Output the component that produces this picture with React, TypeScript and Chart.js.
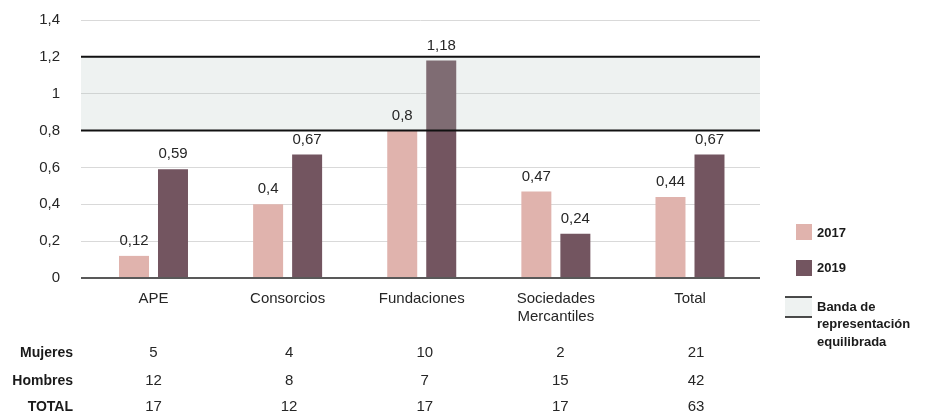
import React, { useEffect, useRef } from 'react';
import { Chart, registerables } from 'chart.js';

Chart.register(...registerables);

const categories: (string | string[])[] = ['APE', 'Consorcios', 'Fundaciones', ['Sociedades', 'Mercantiles'], 'Total'];
const seriesNames = ['2017', '2019'];
const values2017 = [0.12, 0.4, 0.8, 0.47, 0.44];
const values2019 = [0.59, 0.67, 1.18, 0.24, 0.67];
const yTickValues = [0, 0.2, 0.4, 0.6, 0.8, 1, 1.2, 1.4];
const bandRange = [0.8, 1.2];
const bandLabel = ['Banda de', 'representación', 'equilibrada'];
const tableRowLabels = ['Mujeres', 'Hombres', 'TOTAL'];
const mujeres = [5, 4, 10, 2, 21];
const hombres = [12, 8, 7, 15, 42];
const totales = [17, 12, 17, 17, 63];

const COLOR_2017 = '#e0b3ad';
const COLOR_2019 = '#735560';
const TEXT = '#262626';
const FONT = '"Liberation Sans", Arial, sans-serif';

const fmt = (v: number) => String(Math.round(v * 100) / 100).replace('.', ',');

export default function App() {
  const ref = useRef<HTMLCanvasElement | null>(null);

  useEffect(() => {
    if (!ref.current) return;
    Chart.defaults.font.family = FONT;

    const overlay = {
      id: 'overlay',
      afterDatasetsDraw(chart: any) {
        const { ctx, chartArea } = chart;
        const y = chart.scales.y;
        const top = y.getPixelForValue(bandRange[1]);
        const bot = y.getPixelForValue(bandRange[0]);
        ctx.save();
        ctx.fillStyle = 'rgba(176,194,190,0.21)';
        ctx.fillRect(chartArea.left, top, chartArea.right - chartArea.left, bot - top);
        ctx.strokeStyle = '#111111';
        ctx.lineWidth = 2;
        ctx.beginPath();
        ctx.moveTo(chartArea.left, top);
        ctx.lineTo(chartArea.right, top);
        ctx.moveTo(chartArea.left, bot);
        ctx.lineTo(chartArea.right, bot);
        ctx.stroke();
        ctx.restore();
      },
      afterDraw(chart: any) {
        const { ctx } = chart;
        const x = chart.scales.x;
        ctx.save();
        // data labels
        ctx.fillStyle = TEXT;
        ctx.font = `15px ${FONT}`;
        ctx.textAlign = 'center';
        ctx.textBaseline = 'middle';
        chart.data.datasets.forEach((ds: any, di: number) => {
          const meta = chart.getDatasetMeta(di);
          meta.data.forEach((bar: any, i: number) => {
            ctx.fillText(fmt(ds.data[i].y), bar.x, bar.y - 15);
          });
        });
        // table
        const rows = [mujeres, hombres, totales];
        const rowY = [353, 381, 407];
        rows.forEach((row, r) => {
          ctx.font = `bold 14px ${FONT}`;
          ctx.textAlign = 'right';
          ctx.fillStyle = '#1a1a1a';
          ctx.fillText(tableRowLabels[r], 73, rowY[r]);
          ctx.font = `15px ${FONT}`;
          ctx.textAlign = 'center';
          ctx.fillStyle = TEXT;
          row.forEach((v, i) => {
            ctx.fillText(String(v), x.getPixelForValue(i) + i * 1.5, rowY[r]);
          });
        });
        // legend
        ctx.textAlign = 'left';
        ctx.font = `bold 13px ${FONT}`;
        ctx.fillStyle = COLOR_2017;
        ctx.fillRect(796, 224, 16, 16);
        ctx.fillStyle = COLOR_2019;
        ctx.fillRect(796, 260, 16, 16);
        ctx.fillStyle = '#1a1a1a';
        ctx.fillText(seriesNames[0], 817, 233);
        ctx.fillText(seriesNames[1], 817, 268);
        ctx.fillStyle = '#eef2f1';
        ctx.fillRect(785, 297, 27, 20);
        ctx.strokeStyle = '#111111';
        ctx.lineWidth = 1.5;
        ctx.beginPath();
        ctx.moveTo(785, 297);
        ctx.lineTo(812, 297);
        ctx.moveTo(785, 317);
        ctx.lineTo(812, 317);
        ctx.stroke();
        ctx.fillStyle = '#1a1a1a';
        bandLabel.forEach((t, k) => ctx.fillText(t, 817, 307 + k * 17.5));
        ctx.restore();
      },
    };

    const chart = new Chart(ref.current, {
      type: 'bar',
      data: {
        datasets: [
          {
            label: seriesNames[0],
            data: values2017.map((v, i) => ({ x: i, y: v })),
            backgroundColor: COLOR_2017,
            categoryPercentage: 0.5816,
            barPercentage: 0.769,
          },
          {
            label: seriesNames[1],
            data: values2019.map((v, i) => ({ x: i, y: v })),
            backgroundColor: COLOR_2019,
            categoryPercentage: 0.5816,
            barPercentage: 0.769,
          },
        ],
      },
      options: {
        animation: false,
        responsive: true,
        maintainAspectRatio: false,
        layout: { padding: { left: 0, top: 20, right: 166, bottom: 0 } },
        plugins: { legend: { display: false }, tooltip: { enabled: false } },
        scales: {
          x: {
            type: 'linear',
            offset: false,
            min: -0.5405,
            max: 4.522,
            grid: { display: false, drawTicks: false },
            border: { display: false },
            afterBuildTicks: (axis: any) => {
              axis.ticks = categories.map((_, i) => ({ value: i }));
            },
            afterFit: (scale: any) => {
              scale.height = 139;
              scale.paddingLeft = 0;
              scale.paddingRight = 0;
            },
            ticks: {
              autoSkip: false,
              maxRotation: 0,
              padding: 12,
              color: TEXT,
              font: { size: 15, family: FONT },
              callback: (v: any) => categories[Math.round(Number(v))] as any,
            },
          },
          y: {
            min: 0,
            max: 1.4,
            afterBuildTicks: (axis: any) => {
              axis.ticks = yTickValues.map((v) => ({ value: v }));
            },
            afterFit: (scale: any) => {
              scale.width = 81;
              scale.paddingTop = 0;
              scale.paddingBottom = 0;
            },
            grid: {
              drawTicks: false,
              color: (c: any) => (c.tick && c.tick.value === 0 ? '#595959' : '#d9d9d9'),
              lineWidth: (c: any) => (c.tick && c.tick.value === 0 ? 2 : 1),
            },
            border: { display: false },
            ticks: {
              padding: 21,
              color: TEXT,
              font: { size: 15, family: FONT },
              callback: (v: any) => fmt(Number(v)),
            },
          },
        },
      },
      plugins: [overlay],
    } as any);

    return () => chart.destroy();
  }, []);

  return (
    <div style={{ position: 'fixed', left: 0, top: 0, width: 926, height: 417, background: '#ffffff' }}>
      <canvas ref={ref} />
    </div>
  );
}
